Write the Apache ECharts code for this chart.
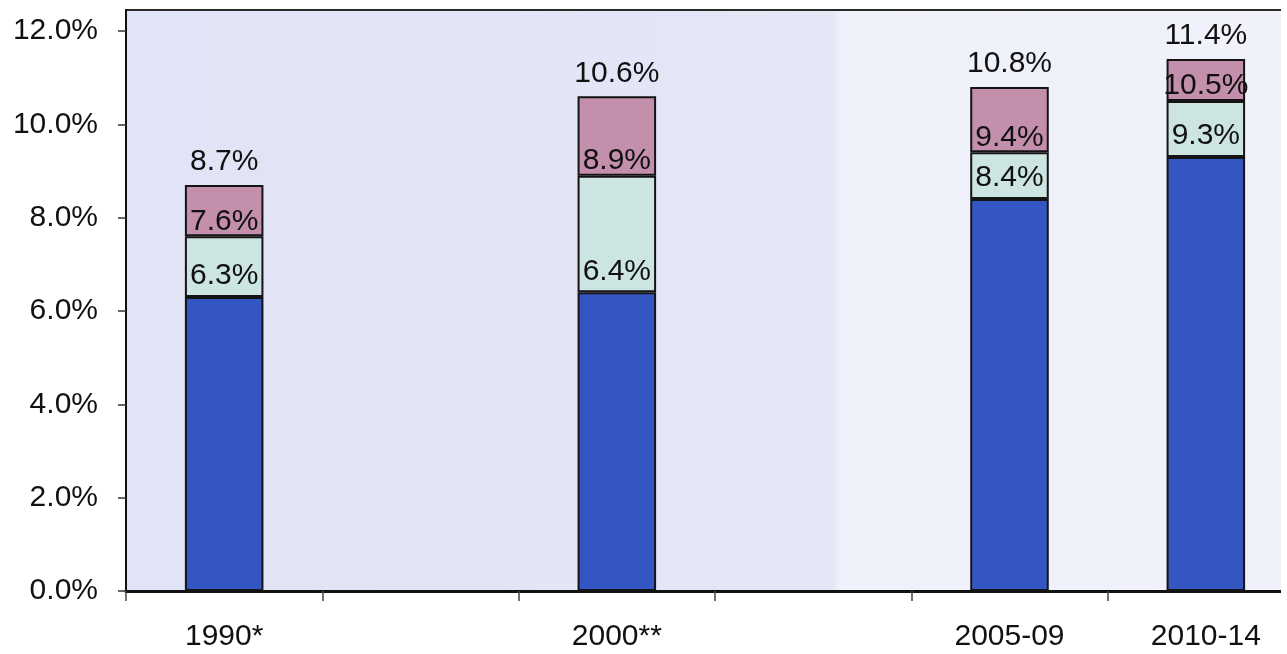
<!DOCTYPE html>
<html>
<head>
<meta charset="utf-8">
<script src="https://cdn.jsdelivr.net/npm/echarts@6/dist/echarts.min.js"></script>
<style>
  html, body { margin: 0; padding: 0; background: #ffffff; overflow: hidden; }
  #frame { width: 1281px; height: 654px; overflow: hidden; position: relative; }
  #chart { width: 1320px; height: 654px; position: absolute; left: 0; top: 0; }
</style>
</head>
<body>
<div id="frame"><div id="chart"></div></div>
<script>
// Period slots on the horizontal axis (blank slots keep the spacing between periods)
const categories = ['1990*', '', '2000**', '', '2005-09', '2010-14'];

// Cumulative level reached by each layer of the stack (%)
const baseTop   = [6.3, null, 6.4, null, 8.4, 9.3];
const middleTop = [7.6, null, 8.9, null, 9.4, 10.5];
const upperTop  = [8.7, null, 10.6, null, 10.8, 11.4];

// Value axis ticks (%)
const yTicks = [0, 2, 4, 6, 8, 10, 12];

const fontFamily = '"Liberation Sans", Arial, sans-serif';
const textColor = '#111111';
const fontSize = 30;

// Segment heights derived from the cumulative levels
const segment = (top, below) => top.map((v, i) =>
  v == null ? '-' : (below ? +(v - below[i]).toFixed(4) : v));

function barSeries(name, data, tops, color, labelDistance) {
  return {
    name,
    type: 'bar',
    stack: 'total',
    barWidth: '40%',
    data,
    itemStyle: { color, borderColor: '#141414', borderWidth: 2 },
    label: {
      show: true,
      position: 'top',
      distance: labelDistance,
      color: textColor,
      fontFamily,
      fontSize,
      formatter: p => tops[p.dataIndex] == null ? '' : tops[p.dataIndex].toFixed(1) + '%'
    },
    emphasis: { disabled: true }
  };
}

const chart = echarts.init(document.getElementById('chart'), null, { renderer: 'canvas' });
chart.setOption({
  animation: false,
  backgroundColor: '#ffffff',
  grid: {
    left: 126, top: 10, width: 1178, height: 581,
    show: true,
    borderColor: '#2a2a2a',
    borderWidth: 2,
    backgroundColor: {
      type: 'linear', x: 0, y: 0, x2: 1, y2: 0,
      colorStops: [
        { offset: 0, color: '#e1e3f6' },
        { offset: 0.30, color: '#e3e5f6' },
        { offset: 0.60, color: '#e5e7f7' },
        { offset: 0.605, color: '#eef0fa' },
        { offset: 1, color: '#f1f2fb' }
      ]
    }
  },
  xAxis: {
    type: 'category',
    data: categories,
    axisLine: { lineStyle: { color: '#111111', width: 3 } },
    axisTick: { show: true, interval: 0, length: 10, lineStyle: { color: '#444444', width: 1.5 } },
    axisLabel: {
      interval: 0, margin: 31, color: textColor, fontFamily, fontSize
    },
    splitLine: { show: false }
  },
  yAxis: {
    type: 'value',
    min: 0,
    max: 12.45,
    axisLine: { show: true, lineStyle: { color: '#111111', width: 2 } },
    axisTick: { show: true, length: 8, customValues: yTicks, lineStyle: { color: '#333333', width: 1.5 } },
    axisLabel: {
      customValues: yTicks,
      margin: 28,
      color: textColor,
      fontFamily,
      fontSize,
      formatter: v => v.toFixed(1) + '%'
    },
    splitLine: { show: false }
  },
  series: [
    barSeries('base', segment(baseTop), baseTop, '#3456c2', 6),
    barSeries('middle', segment(middleTop, baseTop), middleTop, '#cde5e2', 0),
    barSeries('upper', segment(upperTop, middleTop), upperTop, '#c48fad', 8)
  ]
});
</script>
</body>
</html>
